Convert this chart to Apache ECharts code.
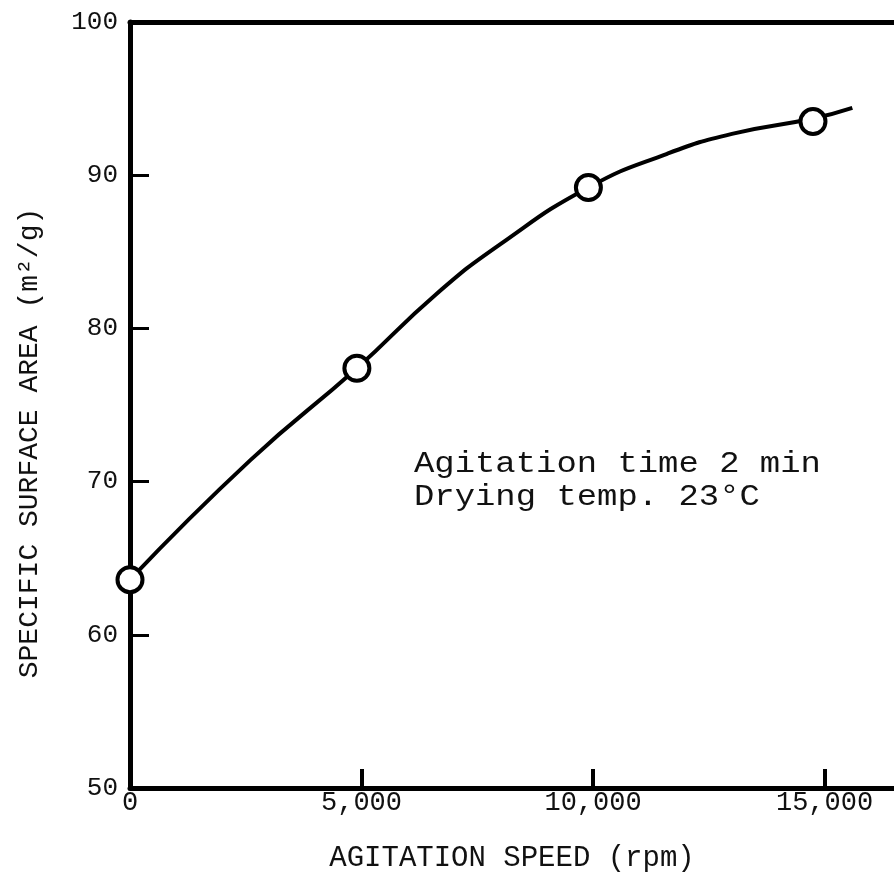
<!DOCTYPE html>
<html>
<head>
<meta charset="utf-8">
<script src="https://cdn.jsdelivr.net/npm/echarts@6/dist/echarts.min.js"></script>
<style>
  html, body { margin: 0; padding: 0; background: #fff; }
  #chart1 { width: 894px; height: 887px; }
</style>
</head>
<body>
<div id="chart1"></div>
<script>
// measured points (rpm, m2/g)
var speed = [0, 4900, 9900, 14750];
var area = [63.6, 77.4, 89.2, 93.5];

// the drawn smooth curve
var curveSpeed = [0, 2600, 4900, 6600, 8000, 9900, 11600, 13000, 14750, 15600];
var curveArea = [63.6, 71.4, 77.4, 82.2, 85.5, 89.2, 91.4, 92.7, 93.7, 94.4];

var yTicks = [50, 60, 70, 80, 90, 100];
var note = ['Agitation time 2 min', 'Drying temp. 23°C'];

var font = '"Liberation Mono", "DejaVu Sans Mono", monospace';

var myChart = echarts.init(document.getElementById('chart1'));

var pts = [], curve = [];
for (var i = 0; i < speed.length; i++) {
    pts.push([speed[i], area[i]]);
}
for (var j = 0; j < curveSpeed.length; j++) {
    curve.push([curveSpeed[j], curveArea[j]]);
}

myChart.setOption({
    animation: false,
    backgroundColor: '#fff',
    grid: { left: 130, top: 22, right: 0, bottom: 99 },
    xAxis: [{
        type: 'value',
        position: 'bottom',
        min: 0,
        max: 16500,
        interval: 5000,
        name: 'AGITATION SPEED (rpm)',
        nameLocation: 'middle',
        nameGap: 56,
        nameTextStyle: { fontFamily: font, fontSize: 29, color: '#111' },
        axisLine: { show: true, lineStyle: { color: '#000', width: 5 } },
        axisTick: { show: true, inside: true, length: 19, lineStyle: { color: '#000', width: 4 } },
        axisLabel: {
            fontFamily: font, fontSize: 27, color: '#111', margin: 1,
            showMaxLabel: false,
            formatter: function (v) { return v.toLocaleString('en-US'); }
        },
        splitLine: { show: false }
    }, {
        type: 'value',
        position: 'top',
        min: 0,
        max: 16500,
        axisLine: { show: true, lineStyle: { color: '#000', width: 5 } },
        axisTick: { show: false },
        axisLabel: { show: false },
        splitLine: { show: false }
    }],
    yAxis: {
        type: 'value',
        min: yTicks[0],
        max: yTicks[yTicks.length - 1],
        interval: 10,
        axisLine: { show: true, lineStyle: { color: '#000', width: 5 } },
        axisTick: { show: true, inside: true, length: 19, lineStyle: { color: '#000', width: 3 } },
        axisLabel: { fontFamily: font, fontSize: 26, color: '#111', margin: 12 },
        splitLine: { show: false }
    },
    graphic: [{
        type: 'text',
        x: 30,
        y: 443,
        rotation: Math.PI / 2,
        style: {
            text: 'SPECIFIC SURFACE AREA (m²/g)',
            font: '28px ' + font,
            fill: '#111',
            align: 'center',
            verticalAlign: 'middle'
        }
    }, {
        type: 'text',
        x: 414,
        y: 448,
        scaleX: 1.13,
        style: {
            text: note.join('\n'),
            font: '30px ' + font,
            lineHeight: 33,
            fill: '#111'
        }
    }],
    series: [{
        name: 'curve',
        type: 'line',
        data: curve,
        smooth: 0.5,
        showSymbol: false,
        lineStyle: { color: '#000', width: 4 },
        z: 2
    }, {
        name: 'points',
        type: 'scatter',
        data: pts,
        symbol: 'circle',
        symbolSize: 25,
        itemStyle: { color: '#fff', borderColor: '#000', borderWidth: 4, opacity: 1 },
        z: 3
    }]
});
</script>
</body>
</html>
